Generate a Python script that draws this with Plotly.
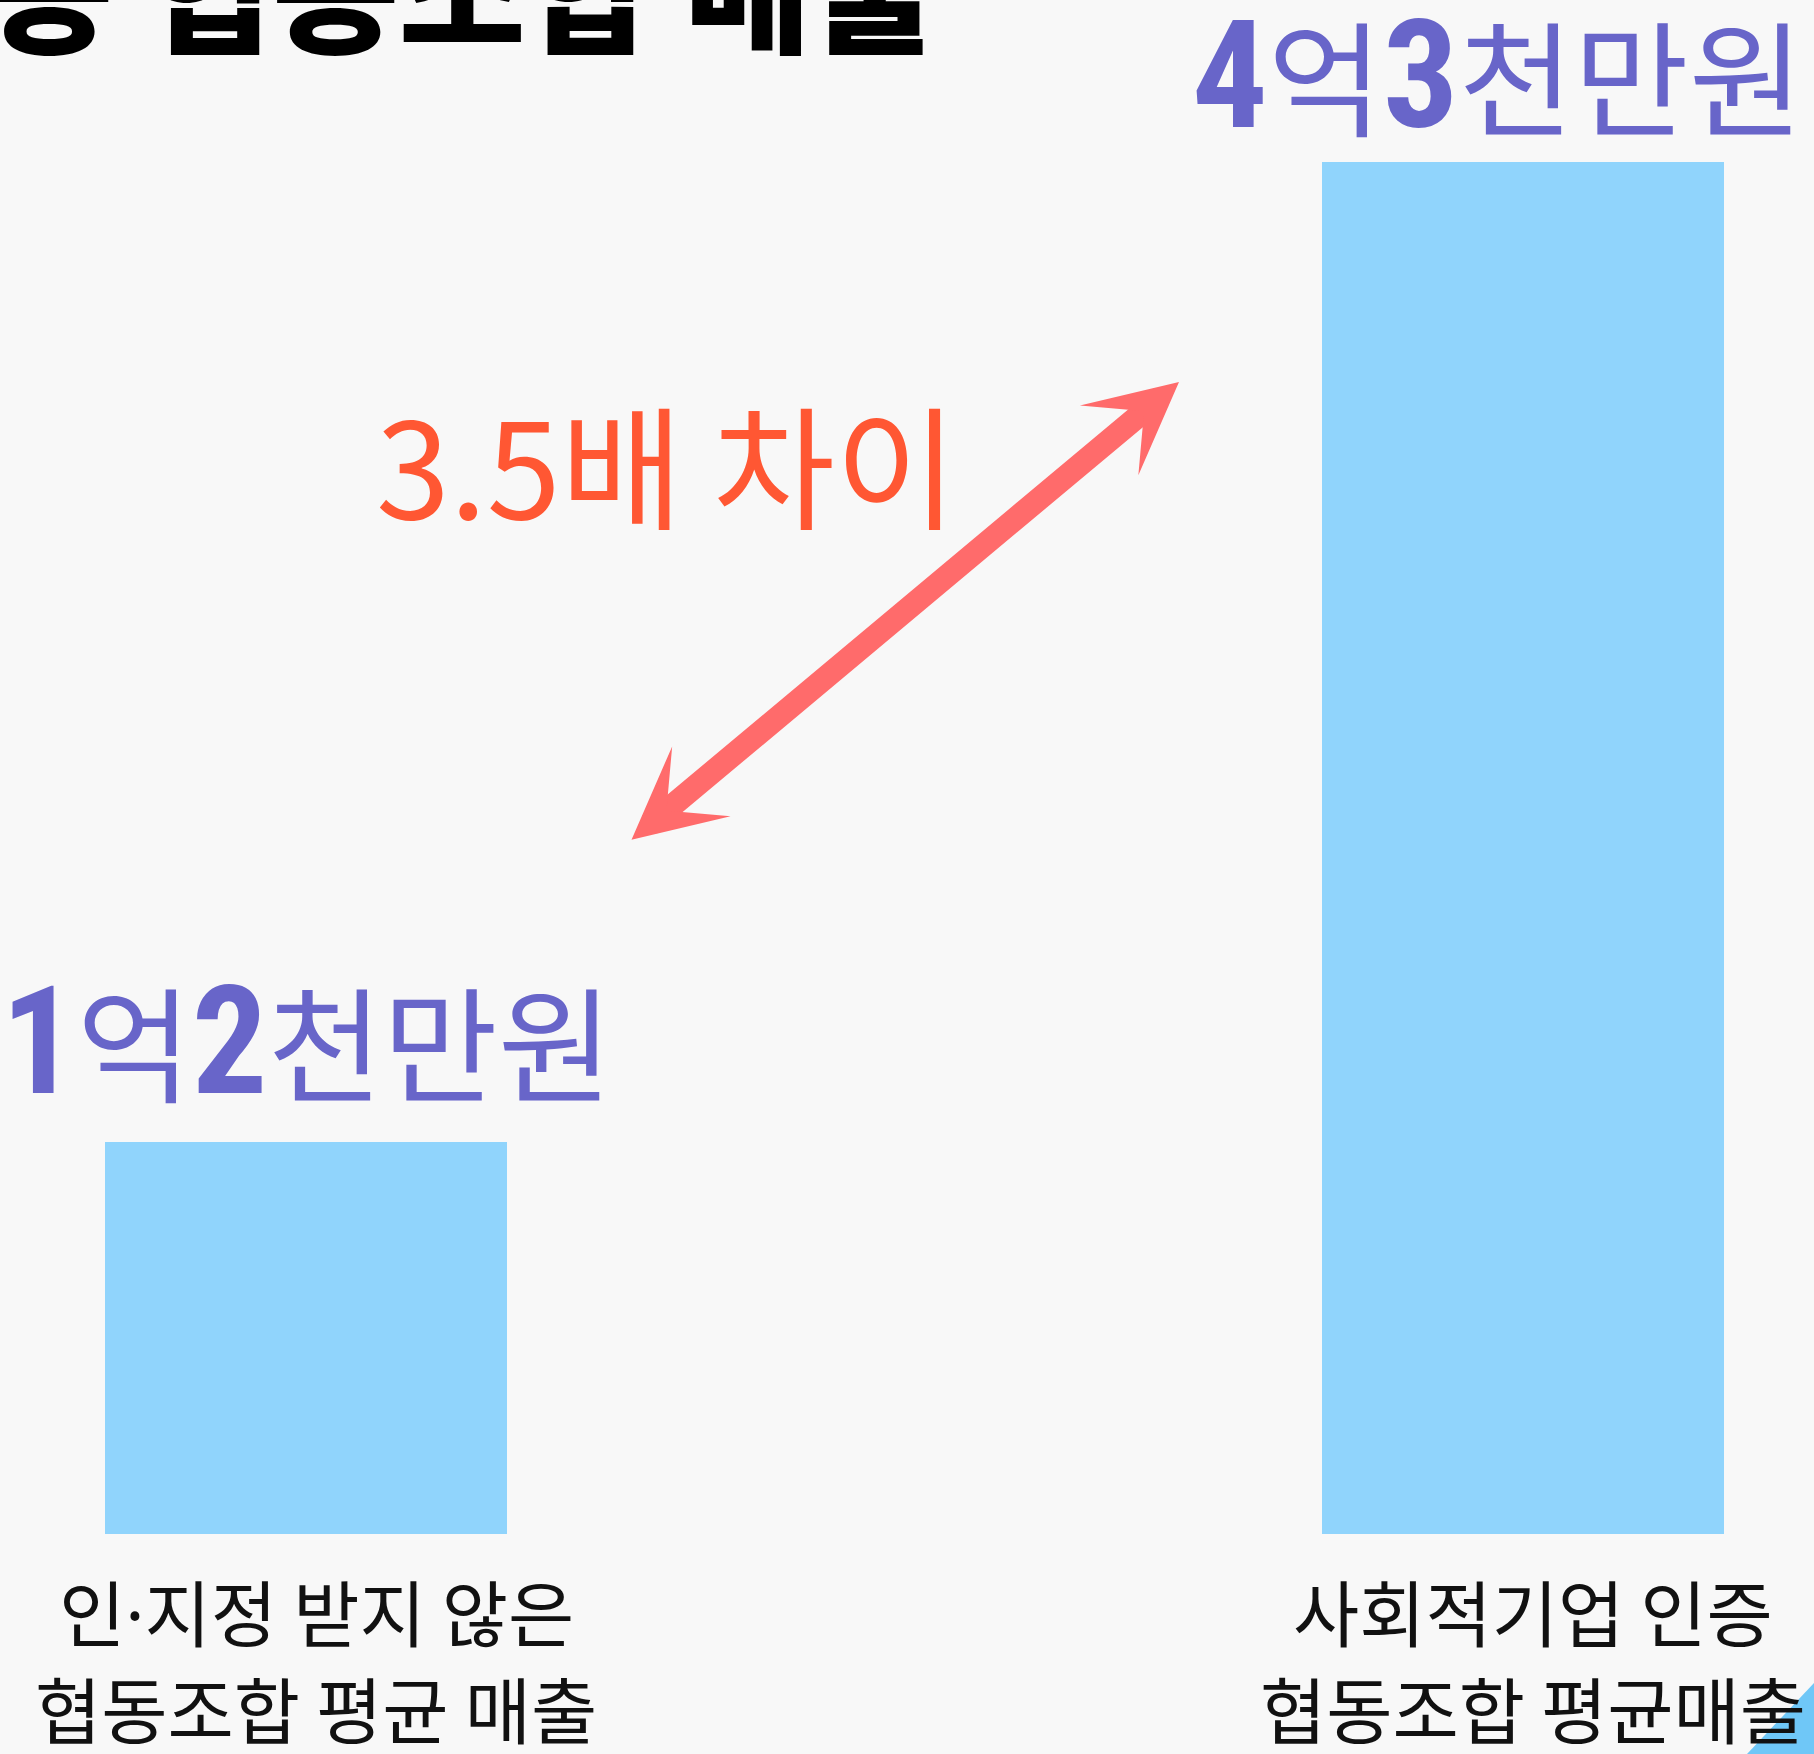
import re
import plotly.graph_objects as go

# ---------------- data ----------------
categories = ["인·지정 받지 않은\n협동조합 평균 매출", "사회적기업 인증\n협동조합 평균매출"]
values = [1.23, 4.3]                     # 평균 매출 (억원)
value_labels = ["1억2천만원", "4억3천만원"]
ratio_label = "3.5배 차이"
title_text = "사회적기업 인증 협동조합 매출"

# ---------------- style ----------------
W, H = 1814, 1754
BG = "#F8F8F8"
BAR = "#90D4FC"
PURPLE = "#6865C9"
ORANGE = "#FF5733"
ARROW = "#FF6B6B"
CORNER = "#6FC7F7"
KR = "Noto Sans CJK KR"

# axis geometry (pixel layout of the plot area)
X0_PX, X_UNIT = 306.0, 1217.0     # pixel of category 0, pixels per category
Y0_PX, Y_UNIT = 1534.0, 319.07    # pixel of value 0, pixels per 억원
x_range = [-X0_PX / X_UNIT, (W - X0_PX) / X_UNIT]
y_range = [-(H - Y0_PX) / Y_UNIT, Y0_PX / Y_UNIT]


def px_to_x(px):
    return (px - X0_PX) / X_UNIT


def px_to_y(py):
    return (Y0_PX - py) / Y_UNIT


x_idx = list(range(len(categories)))

fig = go.Figure(
    go.Bar(
        x=x_idx,
        y=values,
        width=0.33,
        marker=dict(color=BAR, line=dict(width=0)),
        hoverinfo="skip",
    )
)

DIGIT_STYLE = ("font-family:Noto Sans Condensed, Liberation Sans Narrow, "
               "Roboto Condensed, Open Sans Condensed, Noto Sans;"
               "font-stretch:condensed;font-size:150px;font-weight:bold")


def rich_value(label):
    return re.sub(r"(\d+)", r"<span style='" + DIGIT_STYLE + r"'>\1</span>", label)


def rich_category(line):
    # narrow latin middle dot
    return line.replace("·", "<span style='font-family:Noto Sans'>·</span>")


# value labels above bars
value_xshift = [1, -25]
value_yshift = [10, -4]
for i, (v, lab) in enumerate(zip(values, value_labels)):
    fig.add_annotation(
        x=i, y=v, xref="x", yref="y",
        text=rich_value(lab), showarrow=False,
        xanchor="center", yanchor="bottom",
        xshift=value_xshift[i], yshift=value_yshift[i],
        font=dict(family=KR, size=125, color=PURPLE),
    )

# category labels below bars (one annotation per line)
line_centers_px = [1609, 1706]
for i, cat in enumerate(categories):
    for j, line in enumerate(cat.split("\n")):
        fig.add_annotation(
            x=i, xref="x", y=1 - line_centers_px[j] / H, yref="paper",
            text=rich_category(line), showarrow=False,
            xanchor="center", yanchor="middle", xshift=10,
            font=dict(family=KR, size=72, color="#111111"),
        )

# ratio text
fig.add_annotation(
    x=px_to_x(666), y=px_to_y(461), xref="x", yref="y",
    text=ratio_label, showarrow=False,
    xanchor="center", yanchor="middle",
    font=dict(family=KR, size=133, color=ORANGE),
)

# double-headed arrow
fig.add_annotation(
    x=px_to_x(1179), y=px_to_y(382), xref="x", yref="y",
    ax=px_to_x(630), ay=px_to_y(841), axref="x", ayref="y",
    text="", showarrow=True,
    arrowside="end+start",
    arrowhead=3, startarrowhead=3,
    arrowsize=0.66, startarrowsize=0.66,
    arrowwidth=23, arrowcolor=ARROW,
    standoff=0, startstandoff=0,
)

# title (cropped at the top edge of the picture)
fig.add_annotation(
    x=940 / W, xref="paper", y=1 - 84 / H, yref="paper",
    text=title_text, showarrow=False,
    xanchor="right", yanchor="bottom",
    font=dict(family=KR, size=138, color="#000000", weight=900),
)

# decorative corner triangle
fig.add_shape(
    type="path", xref="paper", yref="paper",
    path=f"M {1747 / W},0 L 1,0 L 1,{(H - 1683) / H} Z",
    fillcolor=CORNER, line=dict(width=0), layer="above",
)

fig.update_layout(
    width=W, height=H,
    margin=dict(l=0, r=0, t=0, b=0),
    paper_bgcolor=BG, plot_bgcolor=BG,
    showlegend=False,
    bargap=0,
    xaxis=dict(range=x_range, visible=False, fixedrange=True),
    yaxis=dict(range=y_range, visible=False, fixedrange=True),
)

fig.write_html(
    "out.html",
    config={"displayModeBar": False},
    post_script="document.body.style.margin='0';",
)
